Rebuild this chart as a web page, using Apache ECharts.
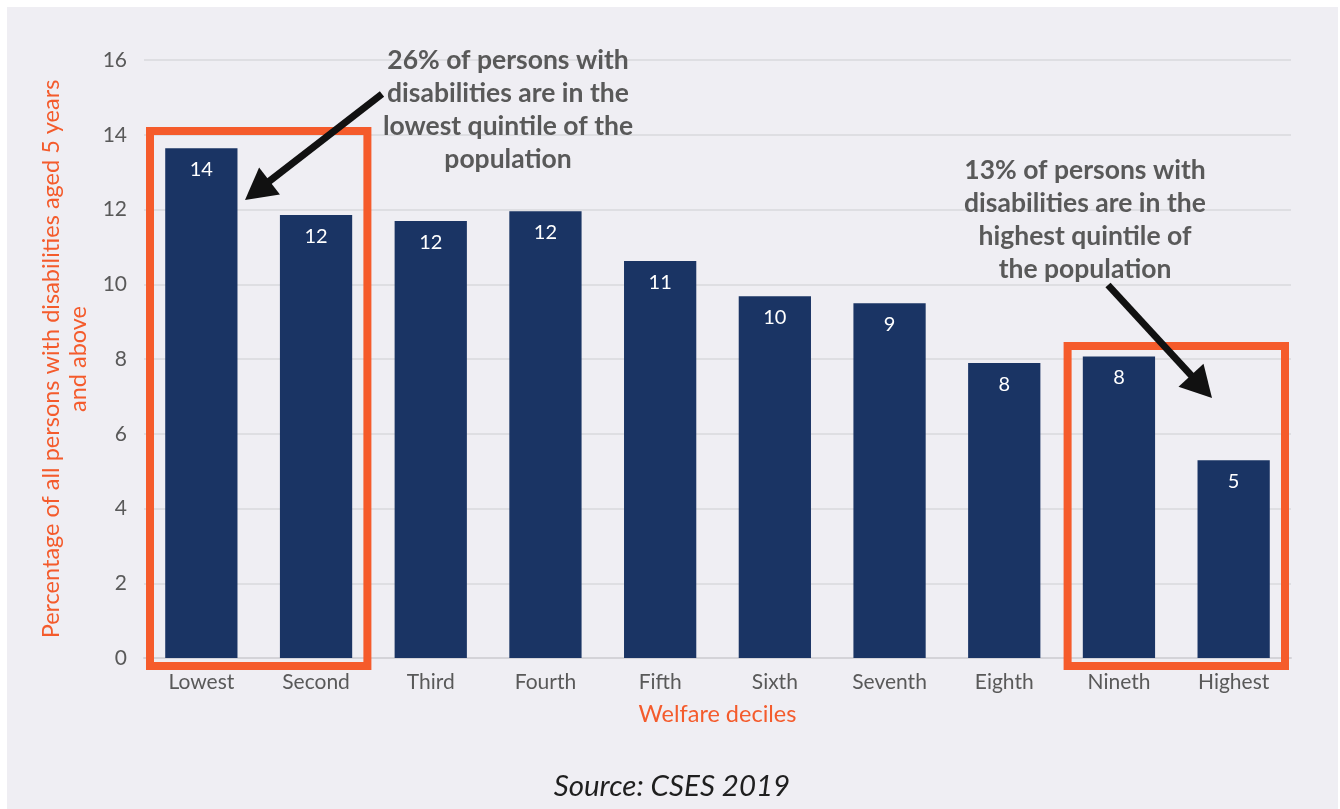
<!DOCTYPE html>
<html>
<head>
<meta charset="utf-8">
<script src="https://cdn.jsdelivr.net/npm/echarts@6/dist/echarts.min.js"></script>
<style>
  html, body { margin: 0; padding: 0; background: #ffffff; }
  #chart { position: absolute; left: 7px; top: 7px; width: 1331px; height: 802px; }
</style>
</head>
<body>
<div id="chart"></div>
<script>
// Welfare deciles and the share of persons with disabilities (aged 5+) in each
const deciles = ['Lowest', 'Second', 'Third', 'Fourth', 'Fifth', 'Sixth', 'Seventh', 'Eighth', 'Nineth', 'Highest'];
const sharePct = [13.64, 11.85, 11.69, 11.95, 10.62, 9.68, 9.49, 7.89, 8.07, 5.29];

// Value axis ticks
const yMin = 0;
const yMax = 16;
const yStep = 2;

// Highlighted quintiles (first decile, last decile, value of the box top)
const quintileFirst = ['Lowest', 'Nineth'];
const quintileLast = ['Second', 'Highest'];
const quintileTop = [14.1, 8.35];

// Callout notes
const notes = [
  '26% of persons with\ndisabilities are in the\nlowest quintile of the\npopulation',
  '13% of persons with\ndisabilities are in the\nhighest quintile of\nthe population'
];

const FONT = 'Lato, "Noto Sans", sans-serif';
const GRAY = '#595959';
const ORANGE = '#f45b2c';
const NAVY = '#1a3464';

const chart = echarts.init(document.getElementById('chart'));

chart.setOption({
  backgroundColor: '#efeef3',
  animation: false,
  grid: { left: 137, right: 47, top: 53, bottom: 151, containLabel: false },
  xAxis: {
    type: 'category',
    data: deciles,
    name: 'Welfare deciles',
    nameLocation: 'middle',
    nameGap: 44,
    nameTextStyle: { color: ORANGE, fontSize: 23.5, fontFamily: FONT },
    axisLine: { show: true, lineStyle: { color: '#d4d3d8', width: 2 } },
    axisTick: { show: false },
    axisLabel: { color: GRAY, fontSize: 21, fontFamily: FONT, margin: 14 }
  },
  yAxis: {
    type: 'value',
    min: yMin,
    max: yMax,
    interval: yStep,
    name: 'Percentage of all persons with disabilities aged 5 years\nand above',
    nameLocation: 'middle',
    nameRotate: 90,
    nameGap: 32,
    nameTextStyle: { color: ORANGE, fontSize: 23.5, fontFamily: FONT, lineHeight: 27, align: 'center' },
    axisLine: { show: false },
    axisTick: { show: false },
    axisLabel: { color: GRAY, fontSize: 21, fontFamily: FONT, margin: 17 },
    splitLine: { lineStyle: { color: '#d9d8dc', width: 1.5 } }
  },
  series: [{
    type: 'bar',
    data: sharePct,
    barCategoryGap: '37%',
    itemStyle: { color: NAVY },
    label: {
      show: true,
      position: 'insideTop',
      distance: 11,
      color: '#ffffff',
      fontSize: 20,
      fontFamily: FONT,
      formatter: p => String(Math.round(p.value))
    }
  }]
});

// Pixel helpers built on the chart's own scales
function px(cat, val) {
  return chart.convertToPixel({ xAxisIndex: 0, yAxisIndex: 0 }, [cat, val]);
}
const bandW = px(deciles[1], 0)[0] - px(deciles[0], 0)[0];

function arrow(x1, y1, x2, y2) {
  const dx = x2 - x1, dy = y2 - y1;
  const L = Math.hypot(dx, dy);
  const ux = dx / L, uy = dy / L;
  const nx = -uy, ny = ux;
  const headLen = 31, half = 17;
  const bx = x2 - ux * headLen, by = y2 - uy * headLen;
  return [
    {
      type: 'line',
      shape: { x1: x1, y1: y1, x2: bx + ux * 3, y2: by + uy * 3 },
      style: { stroke: '#111111', lineWidth: 7 },
      z: 100
    },
    {
      type: 'polygon',
      shape: { points: [[x2, y2], [bx + nx * half, by + ny * half], [bx - nx * half, by - ny * half]] },
      style: { fill: '#111111' },
      z: 100
    }
  ];
}

const graphics = [];

// Orange frames around the lowest and highest quintiles
for (let i = 0; i < quintileFirst.length; i++) {
  const a = px(quintileFirst[i], quintileTop[i]);
  const b = px(quintileLast[i], 0);
  const inset = 6;
  const x0 = a[0] - bandW / 2 + inset;
  const x1 = b[0] + bandW / 2 - inset;
  const y0 = a[1];
  const y1 = b[1] + 8;
  graphics.push({
    type: 'rect',
    shape: { x: x0, y: y0, width: x1 - x0, height: y1 - y0 },
    style: { fill: 'none', stroke: '#f55b2b', lineWidth: 8 },
    z: 90
  });
}

// Callout texts
const noteStyle = {
  fill: GRAY,
  font: 'bold 26.5px ' + FONT,
  textAlign: 'center',
  textVerticalAlign: 'top',
  lineHeight: 33
};
graphics.push({ type: 'text', x: 501, y: 37, style: Object.assign({ text: notes[0] }, noteStyle), z: 100 });
graphics.push({ type: 'text', x: 1078, y: 147, style: Object.assign({ text: notes[1] }, noteStyle), z: 100 });

// Arrows pointing from the notes to the bars
graphics.push(...arrow(375, 87, 238, 193));
graphics.push(...arrow(1101, 278, 1205, 391));

// Source line
graphics.push({
  type: 'text',
  x: 665,
  y: 779,
  style: {
    text: 'Source: CSES 2019',
    fill: '#1f1f1f',
    font: 'italic 29.5px ' + FONT,
    textAlign: 'center',
    textVerticalAlign: 'middle'
  }
});

chart.setOption({ graphic: graphics });
</script>
</body>
</html>
